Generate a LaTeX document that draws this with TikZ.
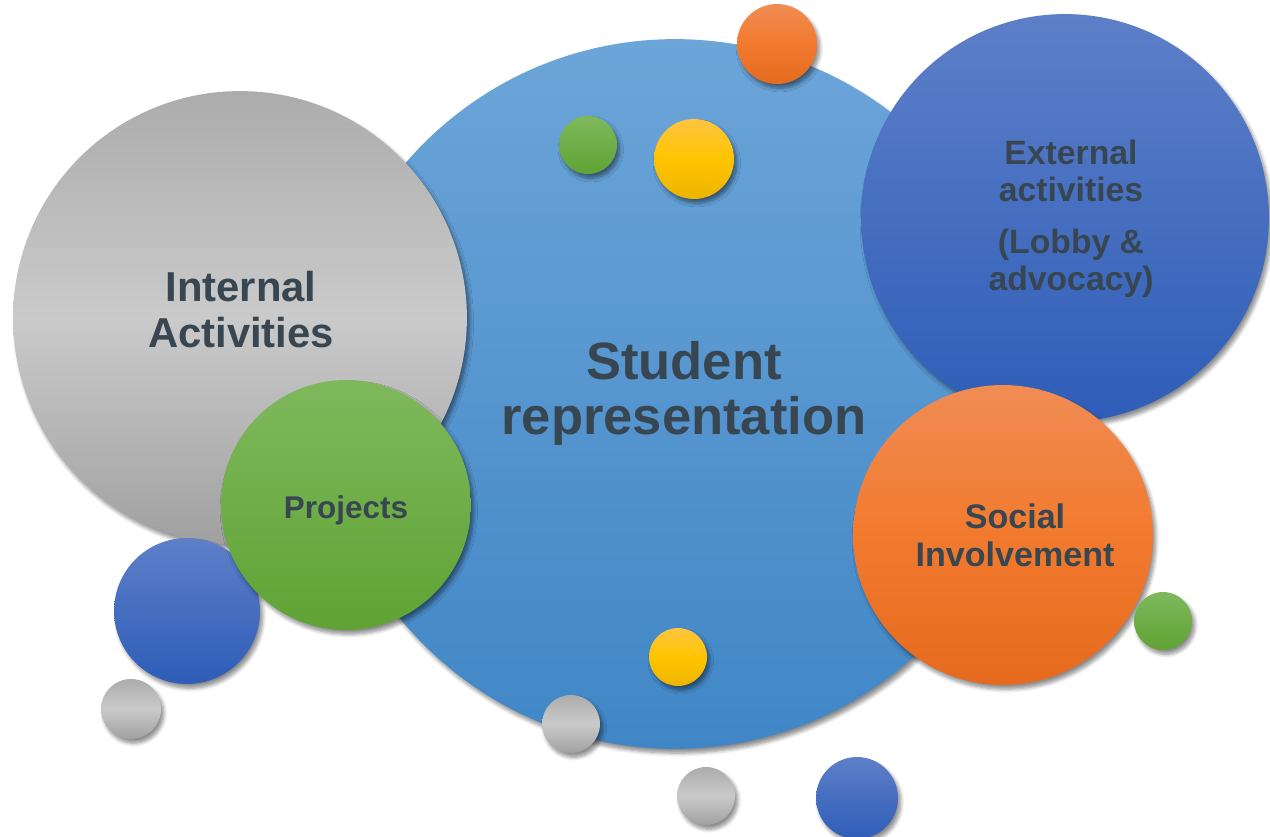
\documentclass[tikz,border=0pt]{standalone}
\usepackage{fontspec}
\setmainfont{Liberation Sans}
\usetikzlibrary{shadows.blur}

\definecolor{inkc}{RGB}{55,70,80}
\definecolor{skyTop}{RGB}{108,165,216}
\definecolor{skyBot}{RGB}{64,134,198}
\definecolor{navyTop}{RGB}{93,127,200}
\definecolor{navyBot}{RGB}{46,93,184}
\definecolor{orTop}{RGB}{240,140,84}
\definecolor{orMid}{RGB}{242,122,46}
\definecolor{orBot}{RGB}{229,106,30}
\definecolor{grTop}{RGB}{126,184,92}
\definecolor{grBot}{RGB}{96,163,52}
\definecolor{yeTop}{RGB}{255,196,64}
\definecolor{yeMid}{RGB}{255,197,0}
\definecolor{yeBot}{RGB}{236,180,0}
\definecolor{gyTop}{RGB}{172,172,172}
\definecolor{gyMid}{RGB}{202,202,202}
\definecolor{gyBot}{RGB}{160,160,160}

\begin{document}
\begin{tikzpicture}[x=0.02cm, y=-0.02cm,
        bubble/.style={circle, inner sep=0pt, minimum size=#1*0.04cm,
            blur shadow={shadow xshift=1.6pt, shadow yshift=-2.4pt, shadow blur steps=6, shadow opacity=45}},
        txt/.style={align=center, text=inkc, inner sep=0pt},
        skyfill/.style={top color=skyTop, bottom color=skyBot},
        navyfill/.style={top color=navyTop, bottom color=navyBot},
        orfill/.style={top color=orTop, bottom color=orBot, middle color=orMid},
        grfill/.style={top color=grTop, bottom color=grBot},
        yefill/.style={top color=yeTop, bottom color=yeBot, middle color=yeMid},
        gyfill/.style={top color=gyTop, bottom color=gyBot, middle color=gyMid}]
    \useasboundingbox (0,0) rectangle (1270,837);

    \node[bubble=355, skyfill] (rep) at (675,394) {};
    \node[bubble=227, gyfill] (int) at (240,318) {};
    \node[bubble=73, navyfill] (b1) at (187,611) {};
    \node[bubble=125, grfill] (proj) at (346,505) {};
    \node[bubble=204, navyfill] (ext) at (1065,218) {};
    \node[bubble=150, orfill] (soc) at (1003,535) {};

    % small dots
    \node[bubble=40, orfill] (o1) at (777,44) {};
    \node[bubble=29, grfill] (g1) at (588,145) {};
    \node[bubble=40, yefill] (y1) at (694,159) {};
    \node[bubble=29, yefill] (y2) at (678,657) {};
    \node[bubble=29, gyfill] (s1) at (571,724) {};
    \node[bubble=30, gyfill] (s2) at (131,709) {};
    \node[bubble=29, gyfill] (s3) at (706,796) {};
    \node[bubble=41, navyfill] (b2) at (857,798) {};
    \node[bubble=29, grfill] (g2) at (1163,621) {};

    % labels
    \node[txt, font=\fontsize{29.9}{31.3}\selectfont\bfseries] (rep-t) at (684,393) {Student\\representation};
    \node[txt, font=\fontsize{23.8}{26.2}\selectfont\bfseries] (int-t) at (241,310) {Internal\\Activities};
    \node[txt, font=\fontsize{17.9}{20}\selectfont\bfseries] (proj-t) at (346,510) {Projects};
    \node[txt, font=\fontsize{19.2}{21}\selectfont\bfseries] (ext-t) at (1071,219) {External\\activities\\[8.5pt](Lobby \&\\advocacy)};
    \node[txt, font=\fontsize{19.4}{21.6}\selectfont\bfseries] (soc-t) at (1015,535) {Social\\Involvement};
\end{tikzpicture}
\end{document}
